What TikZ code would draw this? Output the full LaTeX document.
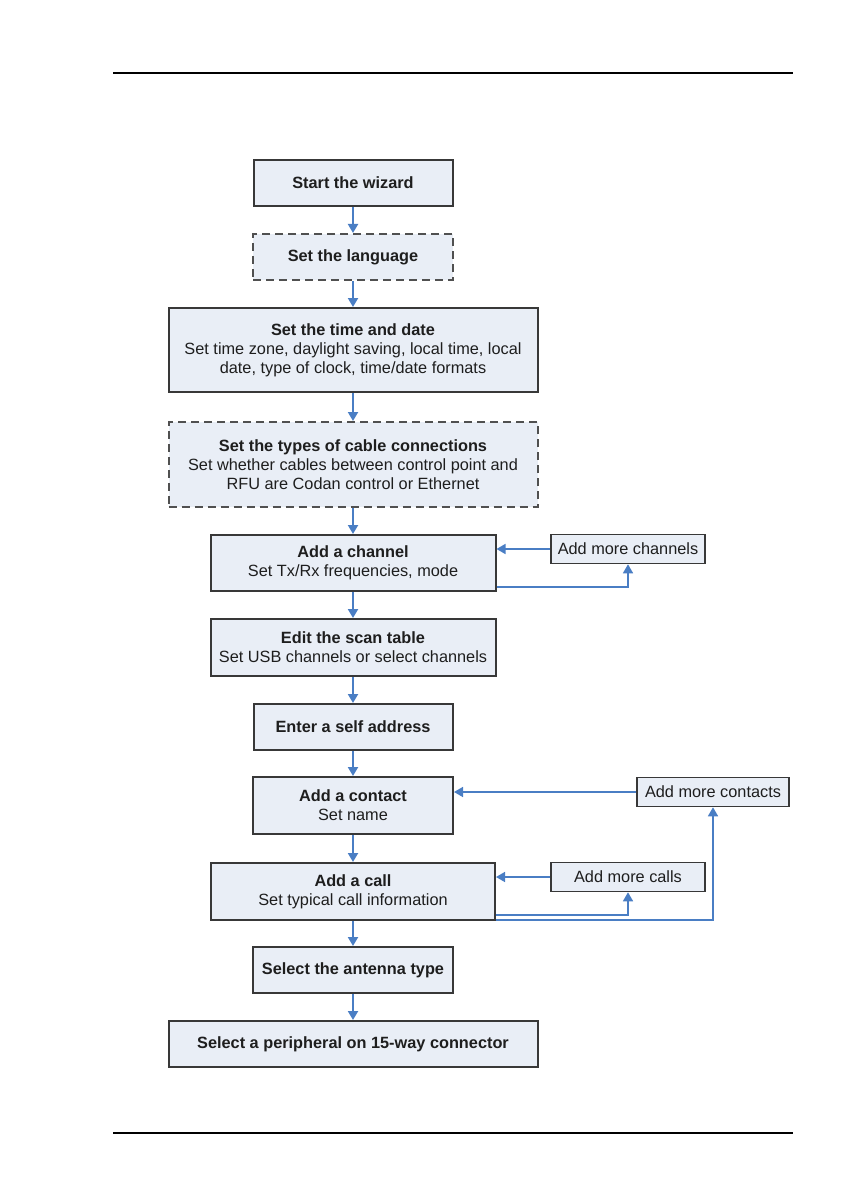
\documentclass[tikz,border=0pt]{standalone}
\usepackage{fontspec}
\setmainfont{Liberation Sans}
\usetikzlibrary{arrows.meta}
\definecolor{boxfill}{HTML}{E9EEF6}
\definecolor{boxline}{HTML}{383838}
\definecolor{dashline}{HTML}{505050}
\definecolor{arrblue}{HTML}{4A7EC4}
\definecolor{txt}{HTML}{1E1E1E}
\tikzset{
  box/.style={draw=boxline, line width=2pt, fill=boxfill, inner sep=0pt,
    align=center, text=txt, font=\fontsize{16.3}{19}\selectfont},
  dbox/.style={box, draw=dashline, dash pattern=on 8pt off 5pt},
  sbox/.style={box, line width=1.6pt},
  arr/.style={draw=arrblue, line width=2pt, -{Triangle[length=9pt,width=10pt]}},
  larr/.style={arr, line width=1.6pt},
  rule/.style={line width=1.2pt, black}
}
\begin{document}
\begin{tikzpicture}[x=1pt,y=-1pt]
\useasboundingbox (0,0) rectangle (840,1190);
\draw[rule] (113,73) -- (793,73);
\draw[rule] (113,1133) -- (793,1133);

\node[box, minimum width=199pt, minimum height=46pt] (start) at (353,183) {\textbf{Start the wizard}};
\node[dbox, minimum width=200pt, minimum height=46pt] (lang) at (353,257) {\textbf{Set the language}};
\node[box, minimum width=369pt, minimum height=84pt] (time) at (353,350) {\textbf{Set the time and date}\\Set time zone, daylight saving, local time, local\\date, type of clock, time/date formats};
\node[dbox, minimum width=369pt, minimum height=85pt] (cable) at (353,464.5) {\textbf{Set the types of cable connections}\\Set whether cables between control point and\\RFU are Codan control or Ethernet};
\node[box, minimum width=285pt, minimum height=56pt] (channel) at (353,563) {\textbf{Add a channel}\\Set Tx/Rx frequencies, mode};
\node[sbox, minimum width=154pt, minimum height=29pt] (morech) at (628,549) {Add more channels};
\node[box, minimum width=285pt, minimum height=57pt] (scan) at (353,647.5) {\textbf{Edit the scan table}\\Set USB channels or select channels};
\node[box, minimum width=199pt, minimum height=46pt] (self) at (353,727) {\textbf{Enter a self address}};
\node[box, minimum width=200pt, minimum height=57pt] (contact) at (353,805.5) {\textbf{Add a contact}\\Set name};
\node[sbox, minimum width=152pt, minimum height=29pt] (morecontacts) at (713,792) {Add more contacts};
\node[box, minimum width=284pt, minimum height=57pt] (call) at (353,891.5) {\textbf{Add a call}\\Set typical call information};
\node[sbox, minimum width=154pt, minimum height=29pt] (morecalls) at (628,877) {Add more calls};
\node[box, minimum width=200pt, minimum height=46pt] (antenna) at (353,970) {\textbf{Select the antenna type}};
\node[box, minimum width=369pt, minimum height=46pt] (periph) at (353,1044) {\textbf{Select a peripheral on 15-way connector}};

\draw[arr] (start.south) -- (start.south |- lang.north);
\draw[arr] (lang.south) -- (lang.south |- time.north);
\draw[arr] (time.south) -- (time.south |- cable.north);
\draw[arr] (cable.south) -- (cable.south |- channel.north);
\draw[arr] (channel.south) -- (channel.south |- scan.north);
\draw[arr] (scan.south) -- (scan.south |- self.north);
\draw[arr] (self.south) -- (self.south |- contact.north);
\draw[arr] (contact.south) -- (contact.south |- call.north);
\draw[arr] (call.south) -- (call.south |- antenna.north);
\draw[arr] (antenna.south) -- (antenna.south |- periph.north);

\draw[larr] (morech.west) -- (morech.west -| channel.east);
\draw[larr] ([yshift=5pt]channel.south east) -| (morech.south);
\draw[larr] (morecontacts.west) -- (morecontacts.west -| contact.east);
\draw[larr] (morecalls.west) -- (morecalls.west -| call.east);
\draw[larr] ([yshift=6pt]call.south east) -| (morecalls.south);
\draw[larr] ([yshift=1pt]call.south east) -| (morecontacts.south);
\end{tikzpicture}
\end{document}
